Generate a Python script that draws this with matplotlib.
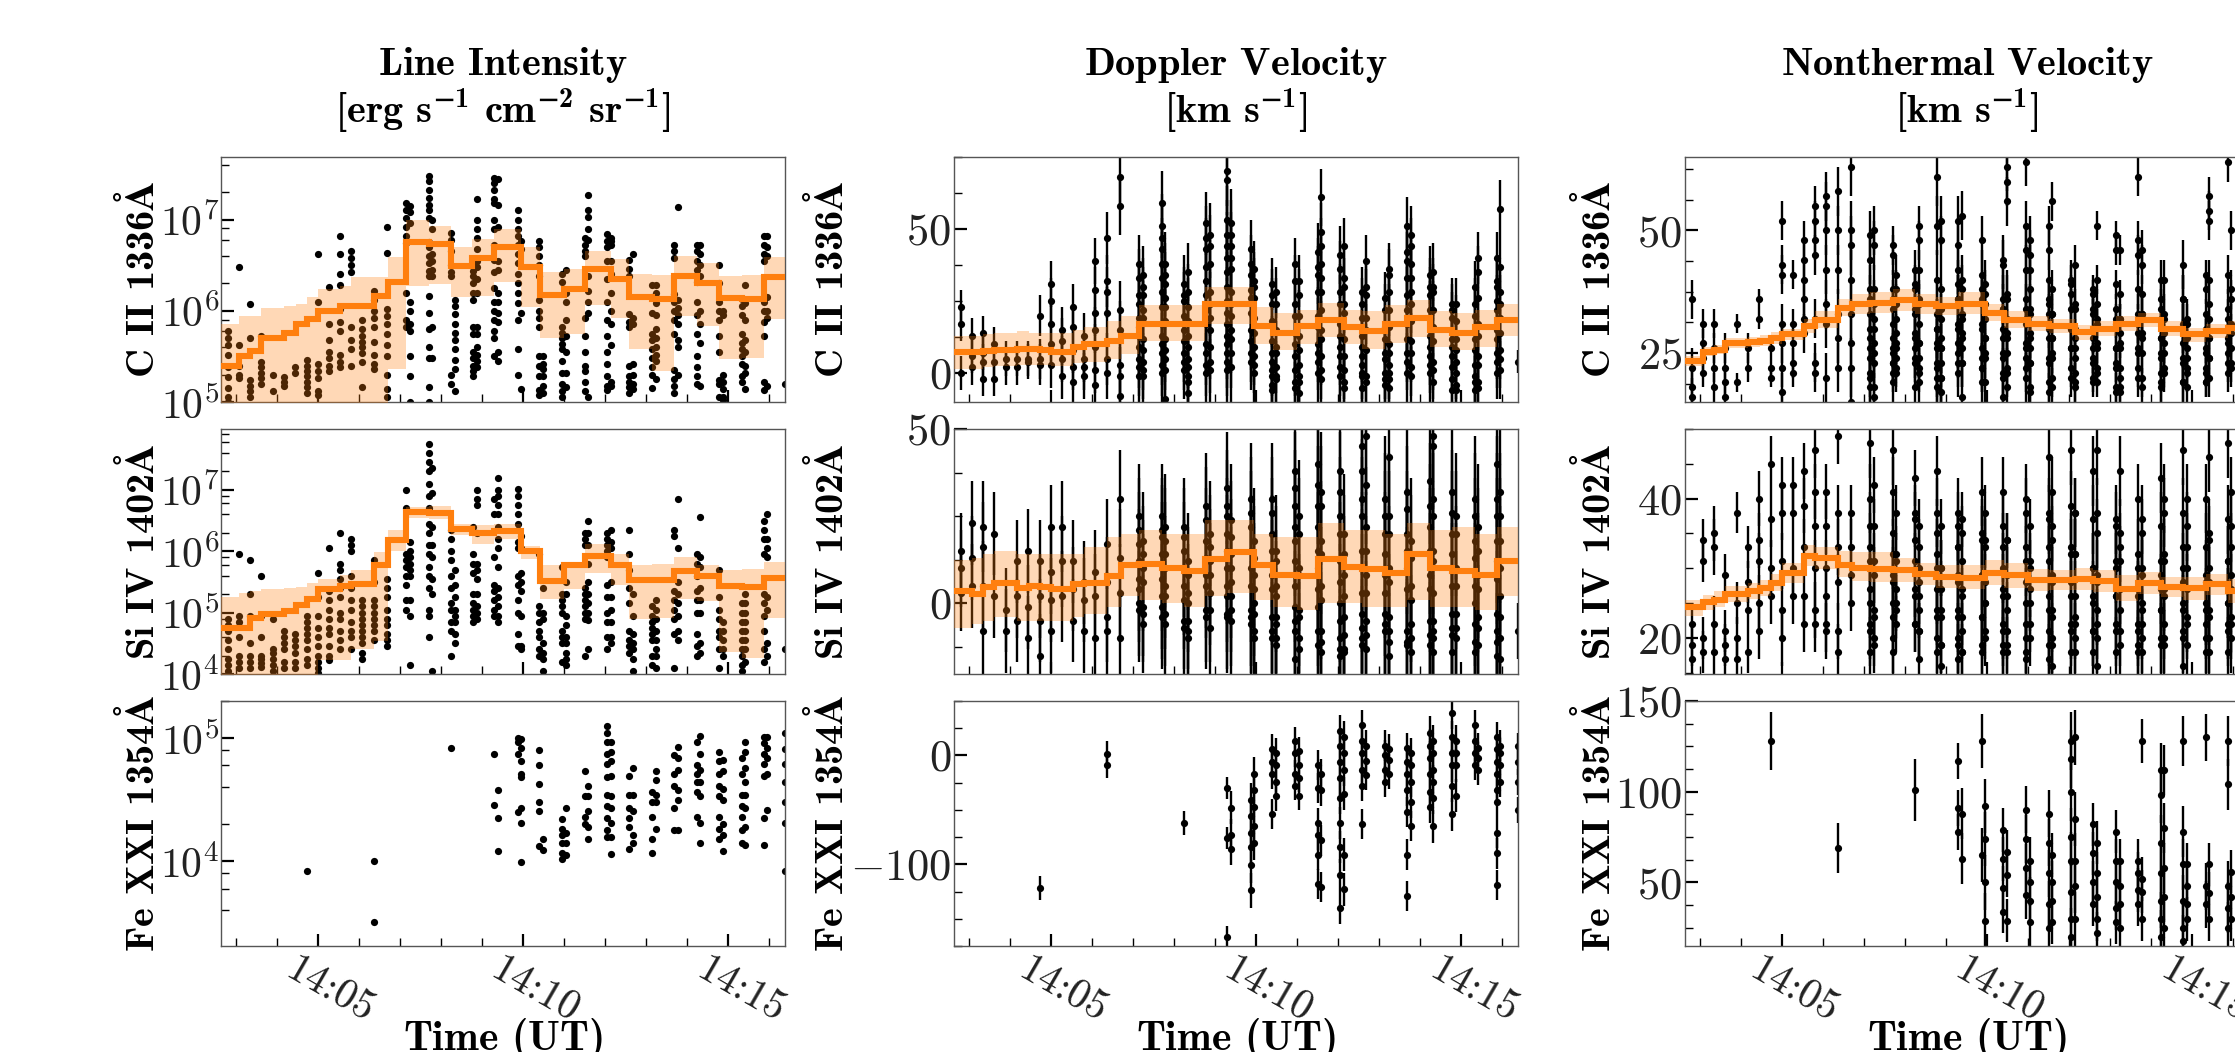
import numpy as np
import matplotlib
matplotlib.use('Agg')
import matplotlib.pyplot as plt
from matplotlib.ticker import LogLocator, MultipleLocator, NullFormatter
from matplotlib.transforms import ScaledTranslation

plt.rcParams['mathtext.fontset'] = 'custom'
plt.rcParams['mathtext.rm'] = 'cmr10'
plt.rcParams['mathtext.bf'] = 'cmb10'
plt.rcParams['mathtext.fallback'] = 'stix'
plt.rcParams['font.family'] = 'cmr10'
plt.rcParams['axes.unicode_minus'] = False
plt.rcParams['axes.formatter.use_mathtext'] = True

# times are minutes after 14:00 UT
col_min = [2.81, 3.09, 3.36, 3.63, 3.91, 4.18, 4.45, 4.73, 5.00, 5.27, 5.54, 5.82, 6.09, 6.37, 6.70, 7.15, 7.25,
           7.70, 7.79, 8.24, 8.35, 8.77, 8.88, 9.30, 9.39, 9.87, 9.96, 10.40, 10.48, 10.95, 11.05, 11.50, 11.59,
           12.05, 12.14, 12.59, 12.67, 13.14, 13.23, 13.68, 13.77, 14.24, 14.32, 14.78, 14.87, 15.33, 15.41,
           15.86, 15.95, 16.37]
bin_min = [2.646, 3.083, 3.363, 3.632, 4.182, 4.462, 4.731, 5.0, 5.538, 5.818, 6.368, 6.704, 7.152, 7.702, 8.240,
           8.767, 9.305, 9.955, 10.404, 11.009, 11.502, 12.141, 12.590, 13.139, 13.677, 14.238, 14.776, 15.325,
           15.863, 16.379]

# log10 intensity, C II
int_c2 = [[5.78,5.70,5.62,5.52,5.38,5.27,5.15,5.05,5.0], [6.48,5.62,5.40,5.30,5.26], [6.07,5.70,5.24,5.18,5.12,5.05],
    [5.72,5.44,5.38,5.32,5.26,5.20], [5.30,5.12], [5.27,5.22,5.18], [5.38,5.32], [5.46,5.40,5.34,5.28,5.22,5.16,5.10],
    [6.62,6.1,5.42,5.34,5.26,5.12,5.08], [6.26,5.85,5.68,5.55,5.48,5.40,5.34], [6.82,6.62,6.40,6.28,6.02,5.88,5.78,5.52,5.44,5.38],
    [6.65,6.58,6.50,6.42,5.82,5.68,5.58,5.40], [5.90,5.80,5.72,5.66,5.60,5.54,5.44,5.16], [6.22,6.12,6.00,5.92,5.82,5.66,5.52,5.42,5.36],
    [6.92,6.63,6.02,5.94,5.86,5.74,5.62,5.50,5.30,5.14,5.06], [7.18,7.10,7.02,6.92,6.82,6.74,6.2,5.9,5.82],
    [7.15,7.08,6.96,6.10,6.0,5.86,5.78,5.5,5.28,5.0],
    [7.48,7.42,7.32,7.24,7.16,7.10,7.02,6.75,6.70,6.60,6.52,6.44,6.38,6.16,5.98,5.80,5.60,5.48,5.16,5.0],
    [7.0,6.9,6.62,6.55,6.45,6.38,5.82,5.48], [6.85,6.78,6.65,6.50,6.42,6.38,5.30,5.20], [6.12,6.05,5.96,5.85,5.76,5.68,5.58,5.46,5.36,5.12],
    [6.50,6.44,6.38,6.30,6.20,6.12,5.82,5.75,5.55,5.48,5.40,5.34,5.28], [7.22,7.0,6.90,6.80,6.68,6.55,6.48,6.35,6.2,5.82,5.75,5.6,5.52,5.45,5.38],
    [7.46,7.40,7.32,7.22,7.18,7.0,6.9,6.72,6.56,6.42,6.25,6.1,6.0,5.9,5.78,5.7,5.5], [7.44,7.16,6.92,6.55,6.45,6.2,6.1,5.98,5.88,5.55,5.45],
    [7.1,7.0,6.9,6.82,6.72,6.62,6.52,6.4,6.3,6.2,6.08,5.9,5.58,5.3], [6.76,6.68,5.98,5.14],
    [6.76,6.70,6.6,6.5,6.38,6.12,6.0,5.92,5.82,5.5,5.4,5.28,5.13,5.08], [5.5,5.42,5.36,5.28,5.18,5.10],
    [6.40,6.32,5.82,5.76,5.7,5.64,5.58,5.45,5.32,5.2,5.12,5.05], [6.45,6.2,6.1,5.9,5.72,5.55,5.32,5.16],
    [6.80,6.72,6.65,6.6,5.92,5.72,5.55,5.4,5.34,5.22,5.12], [7.27,7.1,7.03,6.9,6.78,6.38,6.22,6.1,5.98,5.05],
    [6.84,6.76,6.7,6.55,6.35,6.1,5.9,5.72,5.55,5.42,5.28,5.18,5.13], [6.8,6.76,6.72,6.55,6.4,6.2,6.0,5.85,5.62,5.18,5.22],
    [6.56,6.46,6.38,5.96,5.88,5.82,5.4,5.28,5.22,5.16,5.1], [6.62,5.92,5.85,5.42,5.3,5.2,5.14],
    [6.28,6.15,5.98,5.75,5.68,5.58,5.48,5.38,5.3,5.15], [6.28,6.2,6.08,5.95,5.8,5.7,5.6,5.52,5.45,5.25],
    [6.72,6.65,6.58,6.18,6.1,6.0,5.9,5.75,5.35,5.25,5.18,5.1], [7.14,6.12,6.03,5.95,5.85,5.68,5.6,5.3],
    [6.72,6.65,6.55,6.45,6.32,6.1,5.95,5.75,5.5,5.38,5.28,5.2], [6.72,6.62,6.5,6.38,6.0,5.85,5.65,5.18],
    [6.5,6.3,6.1,6.0,5.9,5.72,5.55,5.24,5.2,5.06], [6.0,5.95,5.3,5.22,5.14,5.05,5.02],
    [6.13,6.05,5.95,5.75,5.65,5.58,5.5,5.42,5.28,5.22], [6.28,6.08,5.9,5.68,5.55,5.4,5.32,5.14],
    [6.82,6.72,6.62,6.55,6.1,6.0,5.88,5.72,5.22,5.13], [6.82,6.7,6.6,6.15,6.0,5.92,5.18], [5.2]]
int_c2_med = [5.40,5.50,5.56,5.70,5.76,5.85,5.91,6.00,6.05,6.05,6.16,6.32,6.75,6.73,6.49,6.58,6.70,6.48,6.17,6.24,6.46,6.35,6.15,6.13,6.38,6.30,6.14,6.13,6.37]
int_c2_hi = [5.85,5.94,5.94,6.03,6.05,6.07,6.15,6.24,6.27,6.37,6.37,6.59,6.99,6.93,6.70,6.79,6.90,6.70,6.42,6.46,6.65,6.57,6.40,6.39,6.60,6.52,6.38,6.39,6.59]
int_c2_lo = [4.8,4.8,4.8,4.8,4.8,4.8,4.8,4.8,4.8,4.8,4.8,5.36,6.27,6.29,6.15,6.16,6.31,6.04,5.70,5.74,6.06,5.92,5.58,5.34,5.94,5.83,5.47,5.48,5.91]

# log10 intensity, Si IV
int_si4 = [[4.9,4.8,4.7,4.55,4.4,4.25,4.15,4.05], [5.95,4.95,4.85,4.6,4.3,4.2,4.1], [5.85,5.3,4.95,4.5,4.3,4.2,4.1],
    [5.6,4.95,4.6,4.3,4.25,4.18,4.12], [4.9,4.4,4.35,4.25,4.15,4.05], [4.7,4.6,4.5,4.4,4.2,4.1], [4.65,4.55,4.45,4.35,4.2,4.1],
    [4.95,4.85,4.75,4.65,4.55,4.4,4.25,4.15], [5.65,5.25,4.95,4.75,4.6,4.45,4.3,4.2,4.1,4.02], [6.05,5.35,5.2,5.05,4.9,4.75,4.65,4.45,4.3,4.22],
    [6.3,5.8,5.7,5.55,5.4,5.25,5.0,4.9,4.7,4.55,4.4], [6.2,6.1,6.0,5.6,5.4,5.2,5.05,4.85,4.7,4.6,4.4], [5.2,5.1,5.0,4.9,4.8,4.7,4.6,4.5,4.35,4.25],
    [5.85,5.5,5.2,5.1,5.0,4.9,4.8,4.7,4.55], [5.55,5.4,5.25,5.05,4.9,4.8,4.65,4.55,4.45], [7.0,6.7,5.95,5.85,5.75,5.6,5.45,5.2,5.05],
    [6.15,6.0,5.9,5.8,5.7,5.6,5.2,4.95,4.15], [7.75,7.6,7.45,7.3,7.1,6.9,6.7,6.45,6.3,6.1,5.95,5.75,5.6,5.4,5.05,4.95,4.6],
    [7.35,6.95,6.4,6.1,5.9,5.55,5.3,4.05], [6.35,6.2,6.0,5.85,5.6,5.4,5.15,5.05,4.85,4.7,4.3], [5.7,5.45,5.25,5.05,4.95,4.85,4.65,4.5],
    [6.4,5.95,5.8,5.65,5.3,5.15,5.05,4.95,4.85], [7.0,6.85,6.75,6.3,5.8,5.7,5.55,5.3,5.1,5.0,4.9], [6.85,6.6,5.9,5.45,5.35,5.2,5.05,4.95],
    [7.2,7.0,6.9,6.75,6.6,6.4,6.2,6.05,5.75,5.4,5.25,5.1,4.95,4.85], [7.02,6.9,6.75,6.6,6.45,6.35,6.15,6.05,5.6,5.45,5.2,5.0,4.65,4.45],
    [6.25,6.05,5.65,5.5,5.35,4.95,4.45,4.4], [5.95,5.1,5.0,4.85,4.7,4.6,4.4,4.3], [5.4,5.0,4.9,4.5,4.35,4.25,4.05],
    [5.75,5.3,5.2,5.1,5.0,4.7,4.6,4.5,4.2], [5.5,5.3,4.95,4.8,4.6,4.5,4.35,4.25,4.15], [6.3,6.2,6.1,5.4,5.3,5.2,5.1,5.0,4.9,4.3],
    [6.5,6.3,6.1,5.8,5.5,5.3,5.15,5.0,4.88,4.4], [6.3,6.2,6.1,6.0,5.9,5.45,5.25,5.0,4.85,4.6,4.4], [6.35,6.15,6.05,5.5,5.25,5.05,4.85,4.6,4.5],
    [6.35,5.95,5.7,5.4,5.15,4.7,4.55,4.45,4.35], [5.3,4.95,4.65,4.5,4.4,4.25,4.05], [5.1,4.95,4.85,4.75,4.65,4.55,4.3,4.15],
    [5.2,5.05,4.9,4.7,4.55,4.4,4.3,4.1], [6.35,6.25,5.35,5.2,5.05,4.9,4.65,4.1], [6.85,6.05,5.5,5.3,5.15,4.95,4.7,4.55],
    [5.95,5.8,5.6,5.35,5.2,5.0,4.65,4.45,4.3], [6.55,5.9,5.75,5.4,5.2,5.0,4.5,4.35], [5.7,5.25,5.05,4.9,4.7,4.6,4.4,4.1], [4.85,4.7,4.55,4.4,4.3],
    [5.15,5.0,4.85,4.7,4.55,4.4,4.3,4.15,4.05], [5.3,5.15,5.0,4.85,4.7,4.55,4.4,4.2], [6.5,6.35,6.2,5.95,5.3,5.15,4.95,4.7,4.4,4.2],
    [6.6,6.2,6.05,5.9,5.25,5.05,4.5,4.3], [4.4]]
int_si4_med = [4.75,4.75,4.92,4.97,5.02,5.12,5.22,5.38,5.44,5.47,5.78,6.19,6.64,6.62,6.36,6.30,6.33,6.01,5.52,5.77,5.93,5.77,5.53,5.53,5.68,5.60,5.44,5.42,5.57]
int_si4_hi = [5.25,5.32,5.35,5.38,5.40,5.42,5.48,5.55,5.62,5.70,5.98,6.34,6.72,6.74,6.44,6.43,6.45,6.08,5.77,5.83,6.11,5.95,5.78,5.79,5.90,5.78,5.70,5.71,5.83]
int_si4_lo = [3.93,3.97,3.97,3.97,3.97,3.97,3.97,4.23,4.23,4.40,4.53,6.01,6.54,6.52,6.27,6.11,6.20,5.88,5.22,5.38,5.65,5.45,4.89,4.92,5.22,5.19,4.36,4.26,4.92]

# log10 intensity, Fe XXI
int_fe = [[],[],[],[],[],[],[], [3.92], [],[],[],[],[], [4.0,3.51], [],[],[],[],[], [4.92], [],[],[],
    [4.87,4.46], [4.58,4.35,4.08], [5.0,4.97,4.87,4.4], [4.99,4.92,4.81,4.71,4.68,4.43,4.31,3.99], [4.9,4.78,4.63,4.48,4.41,4.12], [4.18,4.09],
    [4.34,4.26,4.21,4.15,4.07,4.02], [4.43,4.23,4.15,4.05], [4.73,4.53,4.36,4.3], [4.61,4.53,4.41,4.28,4.18],
    [5.1,5.04,4.97,4.87,4.79,4.68,4.54,4.45,4.35,4.25,4.2], [4.97,4.89,4.81,4.69,4.53,4.43,4.31,4.2,4.06], [4.69,4.54,4.43,4.35,4.28,4.1],
    [4.76,4.54,4.41,4.21,4.15], [4.56,4.48,4.36,4.18,4.07], [4.73,4.66,4.54,4.48,4.26], [4.86,4.71,4.61,4.43,4.25], [4.93,4.84,4.74,4.58,4.5,4.25],
    [4.97,4.78,4.71,4.64,4.56,4.36], [5.02,4.87,4.74,4.64,4.53,4.31,4.15], [4.89,4.81,4.71,4.61,4.53,4.36,4.26,4.18], [4.82,4.73,4.59,4.5,4.3,4.21,4.08],
    [4.84,4.71,4.54,4.45,4.36,4.25,4.15], [4.97,4.89,4.76,4.64,4.54,4.43,4.28,4.13], [5.01,4.96,4.87,4.79,4.69,4.35,4.13], [5.01,4.92,4.84,4.71,4.42],
    [5.04,4.91,4.79,4.64,4.48,4.31,3.92]]

# Doppler velocity, C II
dop_c2 = [[23,17,0], [13,6,2], [14,7,4,-2], [10,4,-2], [5,2], [5,2], [5,4], [20,5,3], [31,25,17,10,3], [15,11,5,-1],
    [23,16,8,2,-3], [13,5,2,-1], [39,29,21,15,9,1,-4], [47,32,28,21,5,0], [68,58,22,15,3,-1,-8], [38,27,19,13,5,-1], [34,27,19,12,4,-1],
    [59,51,43,38,28,17,10,3], [38,31,23,12,5,-9], [31,25,15,4], [35,23,13,5,-1,-7], [52,43,32,22,10,3], [48,44,28,15,4],
    [70,67,53,48,40,30,17,10,4], [52,48,40,28,15,2], [43,34,26,11,4], [36,30,19,9,3], [31,24,4,1,-4], [28,9,-1], [38,24,10,1,-5], [32,13,3,-3],
    [42,34,20,10,4], [61,49,44,38,28,15,1], [41,28,17,9,2], [44,33,24,1,-5], [28,19,9,3,-1], [39,27,15,-1], [26,16,5,-2], [36,34,22,10,3,-2],
    [51,39,27,17,4], [48,44,33,24,11,2], [34,27,19,9,3], [35,28,16,4], [24,22,9,2], [24,12,4,-4], [24,12,3,-3], [40,35,17,3,-3],
    [40,30,22,12,4], [57,37,28,19,5], [4]]
# further points of the dense columns, from 7.25 min on
dop_c2_more = [[33,24,16,9,2], [30,22,8,1], [47,33,23,13,7,0], [34,26,18,8,1], [27,20,11,7,1], [28,18,9,2,-3], [47,37,27,17,7,0], [38,24,19,9,1],
    [44,35,25,21,13,7,1], [44,36,24,20,12,7], [38,29,21,15,7], [32,26,14,6,0], [27,18,11,7,-1,-6], [24,15,7,2,-2], [32,20,14,6,-3], [27,20,8,-1,-7],
    [37,28,16,7,0], [33,22,12,6,-2], [36,24,13,6,-1], [30,21,12,6,-3], [24,13,6,0,-5], [30,19,8,-3], [22,12,7,0,-4], [28,16,7,0,-5],
    [42,33,22,12,7,0], [38,28,18,7,-1], [30,22,13,6,0], [30,22,11,1,-3], [19,12,6,-2,-6], [18,8,0,-6], [30,20,8,-1,-6], [26,13,6,-5], [32,25,15,7,0], [24,14,8,1]]
dop_c2_err = [6,6,6,6,6,6,6,7,8,8,8,8,8,9,10,10,10,11,11,10,10,11,11,12,12,10,10,9,9,9,9,10,10,10,10,9,9,9,9,10,10,10,10,9,9,9,9,9,10,4]
dop_c2_med = [7.3,7.5,7.8,8,8.3,8.4,8.2,7.5,9,10,11.3,13,17,17,17,24,24,16.5,14,16.5,18.5,16,14.5,17,19,15,14,16,18.5]
dop_c2_hi = [13,13,13.5,14,14.5,14,14,14,15,16,18,20,23.5,23.5,23.5,30,30,23,21,22,24.5,22,21.5,23.5,25.5,21.5,21,22,24]
dop_c2_lo = [1.5,1.5,2,2.5,3,3,3,2.5,3.5,4,5,6.5,11,11,11,17,17,10,8,10,12.5,10,8.5,10.5,12.5,9,8,9,13]

# Doppler velocity, Si IV
dop_si4 = [[15,10,3], [23,13,5], [22,16,5,-8], [20,2], [-2,-8], [12,2,-5], [15,-1,-10], [12,2,-5,-15], [22,9,1,-8], [22,12,2], [12,4,-5],
    [6,1,-8], [9,2,-10], [17,6,-4,-8], [30,13,3,-10], [25,17,4,-2], [18,10,-3], [25,19,11,2,-4], [22,14,5,-6], [22,15,5,-5], [12,3,-8],
    [28,18,5,-2], [20,12,-2], [33,25,15,5,-3], [24,14,6,-5], [30,22,10,-2,-6], [18,8,0,-8], [30,20,8,-4,-10], [15,5,-6,-12],
    [38,28,18,5,-5,-16], [25,10,-2,-10], [40,28,15,4,-8], [32,18,5,-8,-14], [38,25,12,0,-10,-15], [20,8,-4,-14], [45,38,25,10,-3,-12],
    [48,22,8,-5,-13], [30,20,8,-3,-8], [42,25,10,-8,-15], [32,20,10,-8,-12], [18,5,-6,-14], [35,22,8,-5,-12], [48,45,30,12,-5,-10],
    [32,20,5,-7,-14], [25,10,-3,-10], [30,18,5,-6,-14], [22,8,-4,-12], [40,25,12,-8,-15], [32,18,2,-10,-16], [-8]]
dop_si4_more = [[21,12,7,0], [14,6,-1,-6], [21,14,7,-1], [18,10,2,-3], [19,10,1,-7], [8,0,-5,-10], [24,13,8,-4], [16,8,3,-7], [28,20,10,2,-4], [19,10,2,-2],
    [26,15,5,-4], [13,4,-3,-10], [26,15,4,-8], [12,2,-4,-10], [33,22,12,-1,-8], [20,8,-4,-13], [34,22,10,-1,-12], [28,14,1,-11], [32,20,6,-5,-13], [14,2,-9,-13],
    [30,15,3,-7,-10], [34,15,3,-9], [25,14,3,-6], [20,6,-4,-11], [27,15,4,-11], [13,1,-10], [28,15,4,-9], [25,15,3,-8,-14], [26,14,-3,-9], [20,5,-7], [25,13,0,-11], [15,4,-7], [30,18,7,-3,-11], [25,10,-4]]
dop_si4_err = [11,12,13,12,12,12,12,12,12,13,12,12,12,13,14,15,14,15,15,14,14,15,15,16,16,16,15,16,16,16,16,17,17,17,17,17,17,18,18,18,18,18,18,18,18,18,18,18,18,8]
dop_si4_med = [3.5,2.7,4.7,5.8,4.3,5,4.7,4,5.5,5.8,7.8,11,11.3,10,9.3,12.8,14.8,11,8,7.8,12.8,10.5,9.9,8.7,14,10,9.3,8,12]
dop_si4_hi = [12.5,13,14,15,14,14,14,14,14,16,19,20,21,20,20,24,24,20,19,19,23,21,21,20,23,21,22,20,22]
dop_si4_lo = [-7,-6,-5,-4,-5,-5,-5,-5,-4,-3,-1,2,1,0,-1,2,3,1,-1,-2,0,0,-1,-1,1,-1,-1,-2,2]

# Doppler velocity, Fe XXI
dop_fe = [[],[],[],[],[],[],[], [-122], [],[],[],[],[], [1,-9], [],[],[],[],[], [-62], [],[],[],
    [-30,-76,-167], [-48,-73,-86], [-41,-56,-71,-84,-101,-124], [-17,-32,-47,-65,-80], [6,-6,-17,-54], [2,-9,-24,-37], [13,2,-17,-28], [4,-9,-21,-37],
    [-9,-30,-62,-73,-91,-118], [-17,-32,-78,-121], [22,9,-6,-21,-39,-62,-84,-110,-140], [17,2,-13,-35,-91,-123], [28,13,2,-13,-28,-63], [9,-5,-18],
    [9,0,-13,-24], [6,-4,-17], [7,-6,-17,-32,-52,-91,-129], [2,-9,-24,-43,-65], [21,9,-2,-17,-34,-47], [13,2,-13,-24,-39,-65], [39,17,2,-9,-28,-54],
    [13,2,-9,-37], [28,13,2,-9], [7,-2,-13], [17,6,-6,-17,-32,-43,-71,-90,-119], [9,2,-9,-24], [9,-6,-24,-50]]
dop_fe_err = [10,10,10,10,10,10,10,11,10,10,10,10,10,12,10,10,10,10,10,11,10,10,10,10,15,16,16,14,14,13,13,14,14,15,15,14,14,14,14,14,14,15,15,15,15,14,14,14,14,12]

# nonthermal velocity, C II
nth_c2 = [[36,22,18,16], [31,27,24,21], [31,26,22,18], [26,22,19,16], [31,19], [26,22], [36,32], [26,22,20], [52,43,41,31,27,22,17], [41,31,27,23,21],
    [48,44,40,36,32,29], [55,52,48,45,32,23,21], [57,55,50,42,35,31,20], [58,50,42,33,28,22], [63,50,47,40,33,27,22,15], [49,44,38,30,26,21,18],
    [50,47,38,32,25,18,16], [47,45,38,34,28,25,23,21], [38,32,27,24,21], [42,38,34,29,26,23], [51,48,42,35,27,22,19], [61,51,40,33,30,26,22,18],
    [52,48,38,32,26,20,17], [52,47,39,36,30,25,21], [53,40,38,33,28,23,16], [48,38,36,30,26,22,19], [39,35,28,24], [44,36,34,30,25,21,16],
    [63,60,56,36,32,28,22], [64,51,46,42,36,32,26,22], [48,45,42,38,34,28,23,17], [51,46,40,35,28,23,17], [56,33,28,24,18], [40,37,30,26,22],
    [43,35,28,24,19], [37,34,28,24,20], [51,40,32,26,21], [49,46,39,32,26,22,17], [46,37,32,27,20,17], [61,48,45,38,31,25,20], [46,43,33,28,18],
    [40,34,28,25,21,18], [40,33,27,22], [43,36,30,24,19], [32,26,21], [41,38,30,25,21,19], [57,54,52,40,28,24], [64,41,34,27,21], [50,38,29,22], [30]]
nth_c2_more = [[36,33,28,24,20], [35,30,27,23], [36,31,26,23,19], [41,35,29,26,22], [39,33,28,24,18], [36,31,27,24,21], [30,27,23,20], [34,28,26,23,20], [42,36,31,27,23],
    [32,29,26,23], [41,35,31,24,22], [37,32,28,25,19], [43,34,28,24,20], [37,29,25,21,18], [34,31,27,24,20], [33,29,26,23,18], [36,33,30,24,19], [38,33,28,25,20], [39,34,30,26,20],
    [34,30,26,21,18], [38,33,26,23,19], [35,31,27,22,19], [34,31,26,23,18], [32,29,26,22,18], [33,29,26,22], [37,33,29,25,20], [36,32,28,24,19], [32,29,25,21], [36,31,27,23,19],
    [31,28,24,22,18], [33,29,26,22,19], [35,32,28,24,20], [32,28,25,23], [36,31,26,23]]
nth_c2_err = [4,3,3,3,2,3,2,2,4,3,4,4,5,5,6,5,5,4,4,4,4,6,5,5,5,5,5,5,5,5,5,4,4,4,4,3,3,3,3,4,4,4,4,5,4,3,4,4,4,4]
nth_c2_med = [23.3,25.3,25.7,27,27.3,27.5,28,28.8,30.5,31.8,34.2,35,35.3,35.8,35,34.6,35,33.2,31.8,31,30.5,29.2,30,31,31.8,30,28.8,29.5,30.1]
nth_c2_hi = [24.3,26.3,26.7,28,28.3,28.7,29.2,30,32,33.5,36,37,37.4,38,37,36.5,37.5,35,33.5,32.5,32,30.7,31.5,32.5,33.2,31.5,30.2,31,31.5]
nth_c2_lo = [22.3,24.3,24.7,26,26.3,26.5,26.9,27.7,29,30.2,32.5,33,33.2,33.6,33,32.8,33,31.5,30.2,29.5,29,27.7,28.5,29.5,30.3,28.5,27.3,28,28.6]

# nonthermal velocity, Si IV
nth_si4 = [[22,19,17], [34,31,20,18], [35,33,22,18], [29,21,19,17], [38,25,20,17], [33,28,24,18], [40,34,31,25,21], [45,37,30,26], [42,38,31,24,20],
    [42,38,30,26], [44,39,33,26,22], [47,41,36,30,24,22], [41,36,30,26,22,21], [49,38,33,28,21,18], [38,33,29,25], [48,40,33,27,22,18],
    [42,36,31,24,19], [47,41,35,29,25,18], [38,32,27,24], [43,37,31,26,22], [36,30,26,21,17], [44,38,32,27,23,18], [36,30,24,19,16],
    [38,33,28,23,19,17], [37,31,27,21,18], [41,35,29,23,18], [34,28,25,20], [41,36,30,26,21,18], [34,29,24,19], [40,33,28,22,18,17], [36,30,25,20],
    [46,38,31,26,21,17], [41,34,29,23,19,16], [47,39,33,28,21], [38,32,26,22,18], [44,37,30,25,21], [47,35,28,22,16], [37,30,26,22,18], [44,33,27,21],
    [40,32,26,21,19], [35,29,24,22,18], [43,36,29,24,19], [40,31,26,22,19], [47,38,30,25,21,16], [40,33,27,22], [40,33,28,24,20], [46,34,28,23,18],
    [48,37,31,25,21], [41,33,27,22], [40]]
nth_si4_more = [[36,31,25,21], [29,23,20], [32,28,23,20], [31,25,22], [38,34,27,22], [33,28,24,21], [35,30,24,20], [30,27,23,19], [36,33,29,24,20], [35,26,23,18],
    [34,29,23,19], [38,33,25,21], [33,27,22,19], [34,26,21,18], [38,31,25,20], [31,27,22], [37,33,24,19], [36,28,24,20], [32,26,22,18], [38,32,23,20], [30,26,21,18],
    [38,29,24,20], [36,31,26,21], [35,31,24,19], [30,27,22,18], [37,30,25,20], [31,27,24,20], [38,32,27,20], [33,28,24,20], [36,30,23,19], [29,25,22,18], [35,30,24,20],
    [31,25,22,18], [36,29,23,20]]
nth_si4_err = [3,3,4,3,3,3,4,4,4,4,4,4,4,4,4,5,4,5,4,4,4,5,4,5,4,5,4,5,4,5,4,5,5,5,5,5,5,5,5,5,5,5,5,5,5,5,5,5,5,4]
nth_si4_med = [24.4,25.1,25.5,26.3,26.7,27.1,27.9,29.3,31.8,31.4,30.4,30,29.9,29.8,29.2,28.7,28.6,29.3,29,28.3,28.3,28.4,28.2,27,27.9,27.3,27.1,27.7,26.7]
nth_si4_hi = [25.5,26.2,26.7,27.5,27.9,28.3,29.2,30.8,33.3,33,32.5,32.4,32.3,31.5,30.8,30.5,30.5,31.2,30.8,29.9,29.8,30,29.8,29,29.5,28.8,28.8,29.2,28.5]
nth_si4_lo = [23.2,24,24.4,25.2,25.6,26,26.7,27.9,30.3,29.9,28.8,28.2,28,28,27.6,27.1,27,27.6,27.2,26.7,26.8,26.9,26.6,25.3,26.3,25.8,25.4,26.2,25]

# nonthermal velocity, Fe XXI
nth_fe = [[],[],[],[],[],[],[], [128], [],[],[],[],[], [69], [],[],[],[],[], [101], [],[],[],
    [117,91,78], [88,63], [128,65], [92,74,50,29], [79,63,47,34], [67,54,29], [90,74,58,43], [62,50,40,28], [88,72,55,38,25], [65,50,40,28],
    [128,118,100,75,62,45,30,20], [130,85,62,48,30], [82,66,50,38], [72,55,42,30,22], [78,62,50,36,28], [62,48,38,25], [62,55,46,38], [128,52,45,30],
    [112,98,72,55,40,30,20], [112,80,58,42,25], [128,78,60,40,25,18], [60,48,38,30], [130,48,38], [60,44,30], [128,104,48,36,25], [56,42,30], [40]]
nth_fe_err = [10,10,10,10,10,10,10,16,10,10,10,10,10,14,10,10,10,10,10,17,10,10,10,10,14,15,15,12,12,13,13,13,12,16,15,12,12,12,12,12,12,15,14,14,12,13,12,14,12,10]

titles = [r'$\mathbf{Line\ Intensity}$' + '\n' + r'$\mathbf{[erg\ s^{-1}\ cm^{-2}\ sr^{-1}]}$',
          r'$\mathbf{Doppler\ Velocity}$' + '\n' + r'$\mathbf{[km\ s^{-1}]}$',
          r'$\mathbf{Nonthermal\ Velocity}$' + '\n' + r'$\mathbf{[km\ s^{-1}]}$']
row_names = [r'$\mathbf{C\ II\ 1336\AA}$', r'$\mathbf{Si\ IV\ 1402\AA}$', r'$\mathbf{Fe\ XXI\ 1354\AA}$']
time_ticks = [5, 10, 15]
time_labels = ['14:05', '14:10', '14:15']
orange = '#ff7f0e'
W, H = 2235.0, 1052.0


def add_bands(ax, med, lo, hi, log=False):
    med, lo, hi = [np.array(v + v[-1:], dtype=float) for v in (med, lo, hi)]
    if log:
        med, lo, hi = 10.0 ** med, 10.0 ** lo, 10.0 ** hi
    ax.fill_between(bin_min, lo, hi, step='post', color=orange, alpha=0.3, lw=0, zorder=3)
    ax.step(bin_min, med, where='post', color=orange, lw=4.4, zorder=4, solid_joinstyle='miter')


def draw_int(ax, cols):
    for t, vals in zip(col_min, cols):
        ax.plot([t] * len(vals), 10.0 ** np.array(vals, dtype=float), 'o', color='k', ms=5.2, mew=0, zorder=2)


def draw_vel(ax, cols, errs, times=col_min):
    for t, vals, e in zip(times, cols, errs):
        ax.errorbar([t] * len(vals), vals, yerr=e, fmt='o', color='k', ms=5.2, mew=0, elinewidth=1.7, zorder=2)


fig = plt.figure(figsize=(22.35, 10.52), dpi=100)
lefts = [221, 954, 1685]
tops = [157, 429, 701]
axs = [[fig.add_axes([lefts[c] / W, 1 - (tops[r] + 245) / H, 564 / W, 245 / H]) for c in range(3)] for r in range(3)]

draw_int(axs[0][0], int_c2)
add_bands(axs[0][0], int_c2_med, int_c2_lo, int_c2_hi, log=True)
draw_int(axs[1][0], int_si4)
add_bands(axs[1][0], int_si4_med, int_si4_lo, int_si4_hi, log=True)
draw_int(axs[2][0], int_fe)

draw_vel(axs[0][1], dop_c2, dop_c2_err)
draw_vel(axs[0][1], dop_c2_more, dop_c2_err[15:], col_min[15:])
add_bands(axs[0][1], dop_c2_med, dop_c2_lo, dop_c2_hi)
draw_vel(axs[1][1], dop_si4, dop_si4_err)
draw_vel(axs[1][1], dop_si4_more, dop_si4_err[15:], col_min[15:])
add_bands(axs[1][1], dop_si4_med, dop_si4_lo, dop_si4_hi)
draw_vel(axs[2][1], dop_fe, dop_fe_err)

draw_vel(axs[0][2], nth_c2, nth_c2_err)
draw_vel(axs[0][2], nth_c2_more, nth_c2_err[15:], col_min[15:])
add_bands(axs[0][2], nth_c2_med, nth_c2_lo, nth_c2_hi)
draw_vel(axs[1][2], nth_si4, nth_si4_err)
draw_vel(axs[1][2], nth_si4_more, nth_si4_err[15:], col_min[15:])
add_bands(axs[1][2], nth_si4_med, nth_si4_lo, nth_si4_hi)
draw_vel(axs[2][2], nth_fe, nth_fe_err)

# y axes
ylims = [[(1e5, 4.85e7), (-10, 75), (15, 65)], [(1e4, 9.8e7), (-20.3, 50), (14.8, 50)], [(2.05e3, 2e5), (-175, 50), (15, 150)]]
yticks = [[[1e5, 1e6, 1e7], [0, 50], [25, 50]], [[1e4, 1e5, 1e6, 1e7], [0, 50], [20, 40]], [[1e4, 1e5], [-100, 0], [50, 100, 150]]]
yminor = [[None, 12.5, 6.25], [None, 12.5, 5], [None, 25, 12.5]]
label_x = [-0.104, -0.182, -0.119]

for r in range(3):
    for c in range(3):
        ax = axs[r][c]
        ax.set_xlim(bin_min[0], bin_min[-1])
        ax.set_ylim(*ylims[r][c])
        if c == 0:
            ax.set_yscale('log')
            ax.set_ylim(*ylims[r][c])
            ax.yaxis.set_minor_locator(LogLocator(base=10, subs=(2, 4, 6, 8), numticks=12))
            ax.yaxis.set_minor_formatter(NullFormatter())
            ax.set_yticks(yticks[r][c])
            ax.set_yticklabels([r'$\mathrm{10^{%d}}$' % round(np.log10(v)) for v in yticks[r][c]])
        else:
            ax.set_yticks(yticks[r][c])
            ax.set_yticklabels([r'$\mathrm{%d}$' % v for v in yticks[r][c]])
            ax.yaxis.set_minor_locator(MultipleLocator(yminor[r][c]))
        ax.xaxis.set_minor_locator(MultipleLocator(1))
        ax.set_xticks(time_ticks)
        ax.tick_params(which='major', direction='in', length=9, width=1.6, labelsize=32, pad=2, color='k', labelcolor='#222222')
        ax.tick_params(which='minor', direction='in', length=6, width=1.0, color='k')
        if c == 0:
            ax.tick_params(axis='y', which='major', labelsize=30, pad=1)
        if r == 2:
            ax.tick_params(axis='x', which='major', pad=3)
            ax.set_xticklabels(time_labels, rotation=-30, ha='center', va='top', fontsize=30)
            for lab in ax.get_xticklabels():
                lab.set_transform(lab.get_transform() + ScaledTranslation(0.12, 0, fig.dpi_scale_trans))
            ax.set_xlabel(r'$\mathbf{Time\ (UT)}$', fontsize=30, va='center')
            ax.xaxis.set_label_coords(0.5, -0.38)
        else:
            ax.set_xticklabels([])
        for s in ax.spines.values():
            s.set_linewidth(1.0)
            s.set_color('#555555')
        ax.set_ylabel(row_names[r], fontsize=29)
        ax.yaxis.set_label_coords(label_x[c], 0.5)
        if r == 0:
            ax.set_title(titles[c], fontsize=29, pad=24, linespacing=1.05)

fig.savefig('out.png', dpi=100)
